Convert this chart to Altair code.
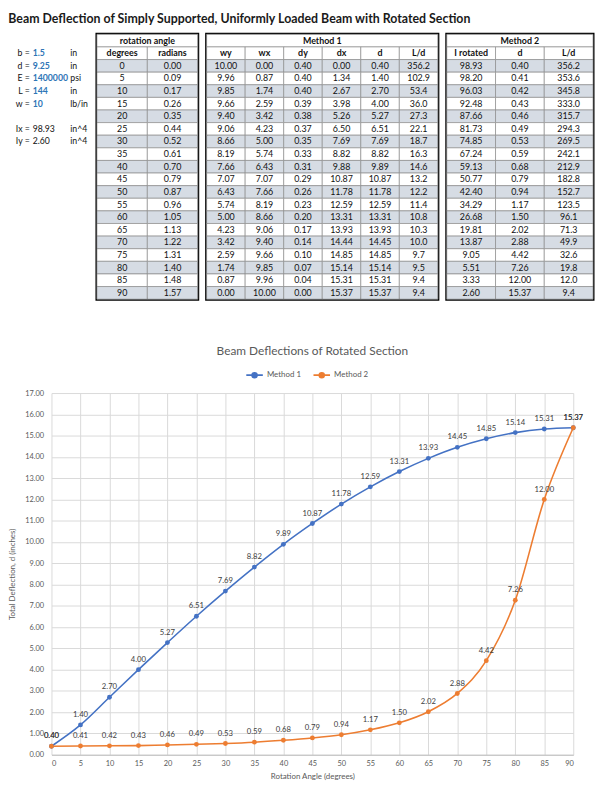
import altair as alt
import pandas as pd

# ---------------- data ----------------
degrees = [0, 5, 10, 15, 20, 25, 30, 35, 40, 45, 50, 55, 60, 65, 70, 75, 80, 85, 90]
radians = [0.00, 0.09, 0.17, 0.26, 0.35, 0.44, 0.52, 0.61, 0.70, 0.79, 0.87, 0.96, 1.05, 1.13, 1.22, 1.31, 1.40, 1.48, 1.57]
wy = [10.00, 9.96, 9.85, 9.66, 9.40, 9.06, 8.66, 8.19, 7.66, 7.07, 6.43, 5.74, 5.00, 4.23, 3.42, 2.59, 1.74, 0.87, 0.00]
wx = [0.00, 0.87, 1.74, 2.59, 3.42, 4.23, 5.00, 5.74, 6.43, 7.07, 7.66, 8.19, 8.66, 9.06, 9.40, 9.66, 9.85, 9.96, 10.00]
dy = [0.40, 0.40, 0.40, 0.39, 0.38, 0.37, 0.35, 0.33, 0.31, 0.29, 0.26, 0.23, 0.20, 0.17, 0.14, 0.10, 0.07, 0.04, 0.00]
dx = [0.00, 1.34, 2.67, 3.98, 5.26, 6.50, 7.69, 8.82, 9.88, 10.87, 11.78, 12.59, 13.31, 13.93, 14.44, 14.85, 15.14, 15.31, 15.37]
d1 = [0.40, 1.40, 2.70, 4.00, 5.27, 6.51, 7.69, 8.82, 9.89, 10.87, 11.78, 12.59, 13.31, 13.93, 14.45, 14.85, 15.14, 15.31, 15.37]
ld1 = [356.2, 102.9, 53.4, 36.0, 27.3, 22.1, 18.7, 16.3, 14.6, 13.2, 12.2, 11.4, 10.8, 10.3, 10.0, 9.7, 9.5, 9.4, 9.4]
irot = [98.93, 98.20, 96.03, 92.48, 87.66, 81.73, 74.85, 67.24, 59.13, 50.77, 42.40, 34.29, 26.68, 19.81, 13.87, 9.05, 5.51, 3.33, 2.60]
d2 = [0.40, 0.41, 0.42, 0.43, 0.46, 0.49, 0.53, 0.59, 0.68, 0.79, 0.94, 1.17, 1.50, 2.02, 2.88, 4.42, 7.26, 12.00, 15.37]
ld2 = [356.2, 353.6, 345.8, 333.0, 315.7, 294.3, 269.5, 242.1, 212.9, 182.8, 152.7, 123.5, 96.1, 71.3, 49.9, 32.6, 19.8, 12.0, 9.4]

param_names = ["b =", "d =", "E =", "L =", "w =", "Ix =", "Iy ="]
param_values = ["1.5", "9.25", "1400000", "144", "10", "98.93", "2.60"]
param_units = ["in", "in", "psi", "in", "lb/in", "in^4", "in^4"]
param_rows = ["head", "0", "5", "10", "15", "25", "30"]
param_input = [True, True, True, True, True, False, False]

main_title = "Beam Deflection of Simply Supported, Uniformly Loaded Beam with Rotated Section"
chart_title = "Beam Deflections of Rotated Section"
y_title = "Total Deflection, d (inches)"
x_title = "Rotation Angle (degrees)"

FONT = "Lato"
row_keys = ["group", "head"] + [str(d) for d in degrees]
TBL_H = 268
SHADE = "#d6dce4"
GRID = "#d9d9d9"
AX = "#595959"


def table_chart(group_title, col_names, col_values, fmts, width):
    n = len(col_names)
    recs = [dict(row="group", x0=0, x1=n, xm=n / 2, text=group_title, fill="white", bold=True)]
    for i, c in enumerate(col_names):
        recs.append(dict(row="head", x0=i, x1=i + 1, xm=i + 0.5, text=c, fill="white", bold=True))
    for r, deg in enumerate(degrees):
        shade = SHADE if r % 2 == 0 else "white"
        for i, vals in enumerate(col_values):
            recs.append(dict(row=str(deg), x0=i, x1=i + 1, xm=i + 0.5,
                             text=fmts[i].format(vals[r]), fill=shade, bold=False))
    df = pd.DataFrame(recs)
    xs = alt.Scale(domain=[0, n], nice=False, zero=False)
    ys = alt.Scale(domain=row_keys, paddingInner=0, paddingOuter=0)
    base = alt.Chart(df)
    cells = base.mark_rect(stroke="#8c8c8c", strokeWidth=0.7).encode(
        x=alt.X("x0:Q", scale=xs, axis=None),
        x2="x1:Q",
        y=alt.Y("row:O", scale=ys, axis=None),
        fill=alt.Fill("fill:N", scale=None),
    )
    txt_n = base.transform_filter("!datum.bold").mark_text(
        fontSize=9, font=FONT, color="#111111"
    ).encode(
        x=alt.X("xm:Q", scale=xs, axis=None),
        y=alt.Y("row:O", scale=ys, axis=None),
        text="text:N",
    )
    txt_b = base.transform_filter("datum.bold").mark_text(
        fontSize=9, font=FONT, fontWeight="bold", color="#111111"
    ).encode(
        x=alt.X("xm:Q", scale=xs, axis=None),
        y=alt.Y("row:O", scale=ys, axis=None),
        text="text:N",
    )
    return alt.layer(cells, txt_n, txt_b).properties(
        width=width, height=TBL_H,
        view=alt.ViewBackground(stroke="black", strokeWidth=3),
    )


# parameters block (its origin is aligned with the plot origin of the line chart below,
# so the text columns sit to the left of it)
pdf = pd.DataFrame(dict(row=param_rows, name=param_names, value=param_values,
                        unit=param_units, inp=param_input))
pys = alt.Scale(domain=row_keys, paddingInner=0, paddingOuter=0)
pxs = alt.Scale(type="point", domain=["label", "unit"], range=[-22, 19], padding=0)
pbase = alt.Chart(pdf)
PFS = 8.8
p_lab = pbase.transform_calculate(part="'label'").mark_text(
    align="right", fontSize=PFS, font=FONT, color="#111111").encode(
    x=alt.X("part:N", scale=pxs, axis=None),
    y=alt.Y("row:O", scale=pys, axis=None), text="name:N")
p_val_in = pbase.transform_filter("datum.inp").transform_calculate(part="'label'").mark_text(
    align="left", dx=3, fontSize=PFS, font=FONT, color="#2e75b6", fontWeight="bold").encode(
    x=alt.X("part:N", scale=pxs, axis=None),
    y=alt.Y("row:O", scale=pys, axis=None), text="value:N")
p_val_out = pbase.transform_filter("!datum.inp").transform_calculate(part="'label'").mark_text(
    align="left", dx=3, fontSize=PFS, font=FONT, color="#111111").encode(
    x=alt.X("part:N", scale=pxs, axis=None),
    y=alt.Y("row:O", scale=pys, axis=None), text="value:N")
p_unit = pbase.transform_calculate(part="'unit'").mark_text(
    align="left", fontSize=PFS, font=FONT, color="#111111").encode(
    x=alt.X("part:N", scale=pxs, axis=None),
    y=alt.Y("row:O", scale=pys, axis=None), text="unit:N")
params = alt.layer(p_lab, p_val_in, p_val_out, p_unit).properties(
    width=38, height=TBL_H, view=alt.ViewBackground(stroke="transparent"))

t_rot = table_chart("rotation angle", ["degrees", "radians"], [degrees, radians], ["{:d}", "{:.2f}"], 102)
t_m1 = table_chart("Method 1", ["wy", "wx", "dy", "dx", "d", "L/d"], [wy, wx, dy, dx, d1, ld1],
                   ["{:.2f}", "{:.2f}", "{:.2f}", "{:.2f}", "{:.2f}", "{:.1f}"], 234)
t_m2 = table_chart("Method 2", ["I rotated", "d", "L/d"], [irot, d2, ld2],
                   ["{:.2f}", "{:.2f}", "{:.1f}"], 148)

top = alt.hconcat(params, t_rot, t_m1, t_m2, spacing=5)

# ---------------- line chart ----------------
ldf = pd.DataFrame(dict(
    degree=degrees + degrees,
    d=d1 + d2,
    method=["Method 1"] * len(degrees) + ["Method 2"] * len(degrees),
))
xenc = alt.X("degree:Q", scale=alt.Scale(domain=[0, 90], nice=False),
             axis=alt.Axis(values=degrees, title=x_title, grid=True, gridColor=GRID,
                           domainColor="#bfbfbf", ticks=False, labelFontSize=7.5, labelColor=AX,
                           titleFontSize=8, titleColor=AX, titleFontWeight="normal", labelPadding=5,
                           titlePadding=6, labelFont=FONT, titleFont=FONT))
yenc = alt.Y("d:Q", scale=alt.Scale(domain=[0, 17], nice=False),
             axis=alt.Axis(values=list(range(18)), format=".2f", grid=True, gridColor=GRID,
                           labelColor=AX, titleColor=AX, domain=False, ticks=False, labelFontSize=7.5,
                           titleFontSize=8, titleFontWeight="normal", labelPadding=8, titlePadding=8,
                           labelFont=FONT, titleFont=FONT, title=y_title))
cenc = alt.Color("method:N", scale=alt.Scale(domain=["Method 1", "Method 2"], range=["#4472c4", "#ed7d31"]),
                 legend=alt.Legend(orient="none", legendX=196, legendY=-28, direction="horizontal", title=None,
                                   labelFontSize=8, labelColor=AX, labelFont=FONT,
                                   symbolType="M-1,0H1M-0.3,0A0.3,0.3,0,1,1,0.3,0A0.3,0.3,0,1,1,-0.3,0",
                                   symbolSize=280, symbolStrokeWidth=1.6, columnPadding=8, labelOffset=3))
lbase = alt.Chart(ldf).encode(x=xenc, y=yenc)
lines = lbase.mark_line(interpolate="monotone", strokeWidth=1.6).encode(color=cenc)
pts = lbase.mark_circle(size=24, opacity=1).encode(color=cenc)
labels = lbase.mark_text(dy=-10, fontSize=7.8, font=FONT, color="#404040").encode(
    text=alt.Text("d:Q", format=".2f"))

line_chart = alt.layer(lines, pts, labels).properties(
    width=528, height=366,
    title=alt.Title(chart_title, fontSize=12, font=FONT, color=AX, fontWeight="normal", offset=8),
    view=alt.ViewBackground(stroke="transparent"),
)

chart = alt.vconcat(top, line_chart, spacing=43).resolve_legend(color="independent").resolve_scale(
    color="independent").properties(
    title=alt.Title(main_title, anchor="start", fontSize=12.5, font=FONT, fontWeight="bold",
                    color="#1a1a1a", offset=7),
    padding=0,
).configure(font=FONT)

chart.save("out.html", embed_options={"renderer": "svg", "actions": False})
